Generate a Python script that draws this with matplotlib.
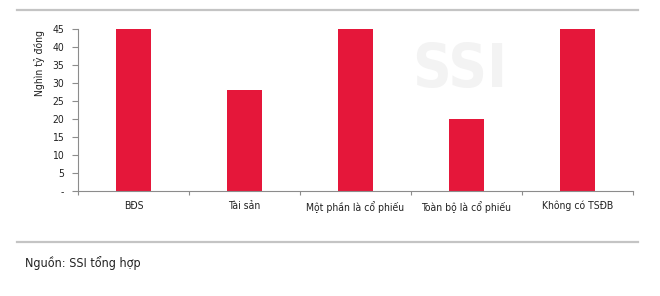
import matplotlib.pyplot as plt
import numpy as np
from matplotlib.lines import Line2D

# data
categories = ['BĐS', 'Tài sản', 'Một phần là cổ phiếu', 'Toàn bộ là cổ phiếu', 'Không có TSĐB']
values = [45, 28, 45, 20, 45]
y_ticks = [0, 5, 10, 15, 20, 25, 30, 35, 40, 45]
y_tick_labels = ['-', '5', '10', '15', '20', '25', '30', '35', '40', '45']

BAR_RED = '#E5173A'
AXIS_GREY = '#8c8c8c'

plt.rcParams['font.family'] = ['DejaVu Sans']
plt.rcParams['font.stretch'] = 'condensed'

W, H = 660, 296
fig = plt.figure(figsize=(W / 100, H / 100), dpi=100)
ax = fig.add_axes([78 / W, 1 - 191 / H, (633 - 78) / W, (191 - 29) / H])

x = np.arange(len(categories))
ax.bar(x, values, width=0.31, color=BAR_RED, zorder=2)

ax.set_xlim(-0.5, len(categories) - 0.5)
ax.set_ylim(0, 45)
ax.set_yticks(y_ticks)
ax.set_yticklabels(y_tick_labels, fontsize=7.5, color='#222222')

# category ticks sit on the boundaries, labels in the middle
ax.set_xticks(np.arange(len(categories) + 1) - 0.5)
ax.set_xticklabels([])
ax.set_xticks(x, minor=True)
ax.set_xticklabels(categories, minor=True, fontsize=7.5, color='#222222')
ax.tick_params(axis='x', which='minor', length=0, pad=7)
ax.tick_params(axis='x', which='major', length=3, color=AXIS_GREY, width=0.8)
ax.tick_params(axis='y', length=4, color=AXIS_GREY, width=0.8, pad=6)

for side in ['top', 'right']:
    ax.spines[side].set_visible(False)
for side in ['left', 'bottom']:
    ax.spines[side].set_color(AXIS_GREY)
    ax.spines[side].set_linewidth(0.8)

ax.set_ylabel('Nghìn tỷ đồng', fontsize=7.5, color='#222222')
ax.yaxis.set_label_coords(-0.06, 0.79)

# watermark
fig.text(460 / W, 1 - 71 / H, 'SSI', fontsize=43, fontweight='bold', color='#f3f3f3',
         ha='center', va='center', zorder=0)

# grey rules top and bottom
for yy in [10, 242]:
    fig.add_artist(Line2D([17 / W, 638 / W], [1 - yy / H, 1 - yy / H],
                          color='#c4c4c4', linewidth=1.6, transform=fig.transFigure))

fig.text(25 / W, 1 - 263 / H, 'Nguồn: SSI tổng hợp', fontsize=9, color='#222222',
         ha='left', va='center')

fig.savefig('out.png', dpi=100)
